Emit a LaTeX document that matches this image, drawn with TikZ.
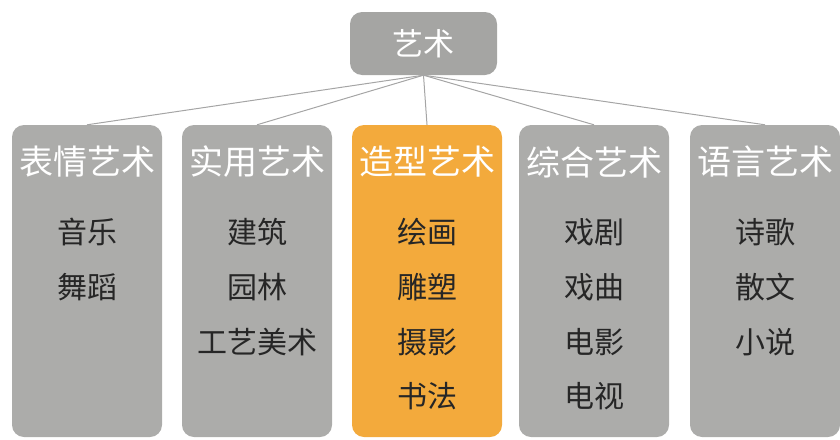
\documentclass[tikz,border=0pt]{standalone}
\usepackage{fontspec}
\newfontfamily\cjk{Noto Sans CJK SC}
\definecolor{boxgray}{RGB}{172,172,170}
\definecolor{topgray}{RGB}{165,165,163}
\definecolor{artorange}{RGB}{243,170,60}
\definecolor{linegray}{RGB}{165,165,165}
\definecolor{itemtext}{RGB}{38,38,38}
\tikzset{
	artbox/.style={rectangle, rounded corners=12pt, fill=boxgray, minimum width=150pt, minimum height=312pt, inner sep=0pt},
	head/.style={text=white, font=\cjk\fontsize{34}{34}\selectfont, inner sep=0pt},
	item/.style={text=itemtext, font=\cjk\fontsize{30}{30}\selectfont, inner sep=0pt},
	connector/.style={draw=linegray, line width=1pt}
}
\begin{document}
\begin{tikzpicture}[x=1pt, y=-1pt]
	\useasboundingbox (0, 0) rectangle (840, 439);
	\node[artbox, fill=topgray, minimum width=147pt, minimum height=63pt, text=white, font=\cjk\fontsize{31}{31}\selectfont] (art) at (423.5, 43.5) {艺术};
	\node[artbox] (expr) at (87, 281) {};
	\node[artbox] (appl) at (257, 281) {};
	\node[artbox, fill=artorange] (plas) at (427, 281) {};
	\node[artbox] (comp) at (594, 281) {};
	\node[artbox] (lang) at (765, 281) {};
	\draw[connector] (art.south) to (expr.north);
	\draw[connector] (art.south) to (appl.north);
	\draw[connector] (art.south) to (plas.north);
	\draw[connector] (art.south) to (comp.north);
	\draw[connector] (art.south) to (lang.north);
	% headers
	\node[head] (expr-h) at (87, 162) {表情艺术};
	\node[head] (appl-h) at (257, 162) {实用艺术};
	\node[head] (plas-h) at (427, 162) {造型艺术};
	\node[head] (comp-h) at (594, 162) {综合艺术};
	\node[head] (lang-h) at (765, 162) {语言艺术};
	% items
	\node[item] (expr-1) at (87, 232) {音乐};
	\node[item] (expr-2) at (87, 287) {舞蹈};
	\node[item] (appl-1) at (257, 232) {建筑};
	\node[item] (appl-2) at (257, 287) {园林};
	\node[item] (appl-3) at (257, 342) {工艺美术};
	\node[item] (plas-1) at (427, 232) {绘画};
	\node[item] (plas-2) at (427, 287) {雕塑};
	\node[item] (plas-3) at (427, 342) {摄影};
	\node[item] (plas-4) at (427, 396) {书法};
	\node[item] (comp-1) at (594, 232) {戏剧};
	\node[item] (comp-2) at (594, 287) {戏曲};
	\node[item] (comp-3) at (594, 342) {电影};
	\node[item] (comp-4) at (594, 396) {电视};
	\node[item] (lang-1) at (765, 232) {诗歌};
	\node[item] (lang-2) at (765, 287) {散文};
	\node[item] (lang-3) at (765, 342) {小说};
\end{tikzpicture}
\end{document}
